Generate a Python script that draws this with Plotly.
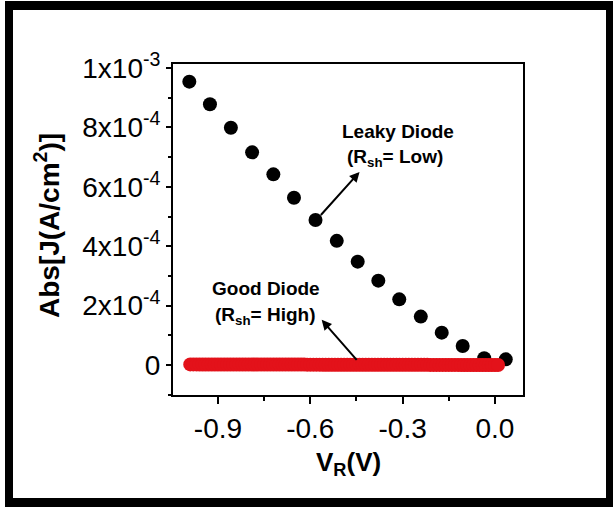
import plotly.graph_objects as go

# Leaky diode (black dots)
leaky_v = [-0.993, -0.926, -0.858, -0.789, -0.720, -0.653, -0.583, -0.514,
           -0.446, -0.379, -0.311, -0.241, -0.173, -0.105, -0.035, 0.035]
leaky_j = [9.54e-4, 8.78e-4, 7.99e-4, 7.16e-4, 6.42e-4, 5.63e-4, 4.88e-4, 4.18e-4,
           3.48e-4, 2.84e-4, 2.21e-4, 1.63e-4, 1.09e-4, 6.4e-5, 2.3e-5, 1.9e-5]

# Good diode (red dots, dense)
good_v = [-0.99, -0.98, -0.97, -0.96, -0.95, -0.94, -0.93, -0.92, -0.91, -0.90,
          -0.89, -0.88, -0.87, -0.86, -0.85, -0.84, -0.83, -0.82, -0.81, -0.80,
          -0.79, -0.78, -0.77, -0.76, -0.75, -0.74, -0.73, -0.72, -0.71, -0.70,
          -0.69, -0.68, -0.67, -0.66, -0.65, -0.64, -0.63, -0.62, -0.61, -0.60,
          -0.59, -0.58, -0.57, -0.56, -0.55, -0.54, -0.53, -0.52, -0.51, -0.50,
          -0.49, -0.48, -0.47, -0.46, -0.45, -0.44, -0.43, -0.42, -0.41, -0.40,
          -0.39, -0.38, -0.37, -0.36, -0.35, -0.34, -0.33, -0.32, -0.31, -0.30,
          -0.29, -0.28, -0.27, -0.26, -0.25, -0.24, -0.23, -0.22, -0.21, -0.20,
          -0.19, -0.18, -0.17, -0.16, -0.15, -0.14, -0.13, -0.12, -0.11, -0.10,
          -0.09, -0.08, -0.07, -0.06, -0.05, -0.04, -0.03, -0.02, -0.01, 0.00, 0.01]
good_j = [2.0e-6, 2.0e-6, 2.0e-6, 1.9e-6, 1.9e-6, 1.9e-6, 1.9e-6, 1.9e-6, 1.8e-6, 1.8e-6,
          1.8e-6, 1.8e-6, 1.8e-6, 1.7e-6, 1.7e-6, 1.7e-6, 1.7e-6, 1.7e-6, 1.6e-6, 1.6e-6,
          1.6e-6, 1.6e-6, 1.6e-6, 1.5e-6, 1.5e-6, 1.5e-6, 1.5e-6, 1.5e-6, 1.4e-6, 1.4e-6,
          1.4e-6, 1.4e-6, 1.4e-6, 1.3e-6, 1.3e-6, 1.3e-6, 1.3e-6, 1.3e-6, 1.2e-6, 1.2e-6,
          1.2e-6, 1.2e-6, 1.2e-6, 1.1e-6, 1.1e-6, 1.1e-6, 1.1e-6, 1.1e-6, 1.0e-6, 1.0e-6,
          1.0e-6, 1.0e-6, 1.0e-6, 9e-7, 9e-7, 9e-7, 9e-7, 9e-7, 8e-7, 8e-7,
          8e-7, 8e-7, 8e-7, 7e-7, 7e-7, 7e-7, 7e-7, 7e-7, 6e-7, 6e-7,
          6e-7, 6e-7, 6e-7, 5e-7, 5e-7, 5e-7, 5e-7, 5e-7, 4e-7, 4e-7,
          4e-7, 4e-7, 4e-7, 3e-7, 3e-7, 3e-7, 3e-7, 3e-7, 2e-7, 2e-7,
          2e-7, 2e-7, 2e-7, 1e-7, 1e-7, 1e-7, 1e-7, 1e-7, 0.0, 0.0, 0.0]

x_tickvals = [-0.9, -0.6, -0.3, 0.0]
x_ticktext = ["-0.9", "-0.6", "-0.3", "0.0"]
y_tickvals = [0, 2e-4, 4e-4, 6e-4, 8e-4, 1e-3]
y_ticktext = ["0", "2x10<sup>-4</sup>", "4x10<sup>-4</sup>", "6x10<sup>-4</sup>",
              "8x10<sup>-4</sup>", "1x10<sup>-3</sup>"]

FONT = "Liberation Sans, Arial, sans-serif"

fig = go.Figure()
fig.add_trace(go.Scatter(x=leaky_v, y=leaky_j, mode="markers",
                         marker=dict(color="black", size=14, line=dict(width=0)),
                         showlegend=False))
fig.add_trace(go.Scatter(x=good_v, y=good_j, mode="markers",
                         marker=dict(color="#E3121A", size=14,
                                     line=dict(width=0)),
                         showlegend=False))

W, H = 613, 507
L, R, T, B = 173, 90, 64, 112
pw, ph = W - L - R, H - T - B

def px(x):
    return (x - L) / pw

def py(y):
    return (H - B - y) / ph

shapes = []
for (x0, y0, x1, y1) in [(5, 1, 13, 507), (606, 1, 613, 507), (5, 1, 613, 10), (5, 498, 613, 507)]:
    shapes.append(dict(type="rect", xref="paper", yref="paper",
                       x0=px(x0), x1=px(x1), y0=py(y1), y1=py(y0),
                       fillcolor="black", line=dict(width=0), layer="above"))

annotations = [
    dict(x=-0.315, y=0.785e-3, text="<b>Leaky Diode</b>", showarrow=False,
         font=dict(size=19, color="black", family=FONT)),
    dict(x=-0.325, y=0.697e-3, text="<b>(R<sub>sh</sub>= Low)</b>", showarrow=False,
         font=dict(size=19, color="black", family=FONT)),
    dict(x=-0.744, y=0.259e-3, text="<b>Good Diode</b>", showarrow=False,
         font=dict(size=19, color="black", family=FONT)),
    dict(x=-0.744, y=0.165e-3, text="<b>(R<sub>sh</sub>= High)</b>", showarrow=False,
         font=dict(size=19, color="black", family=FONT)),
    dict(x=-0.44, y=0.65e-3, ax=-0.57, ay=0.50e-3, axref="x", ayref="y", text="",
         showarrow=True, arrowhead=2, arrowsize=1, arrowwidth=2, arrowcolor="black"),
    dict(x=-0.563, y=0.152e-3, ax=-0.445, ay=0.012e-3, axref="x", ayref="y", text="",
         showarrow=True, arrowhead=2, arrowsize=1, arrowwidth=2, arrowcolor="black"),
    dict(xref="paper", yref="paper", x=0.5, y=py(463), text="<b>V<sub>R</sub>(V)</b>",
         showarrow=False, xanchor="center", yanchor="middle",
         font=dict(size=26, color="black", family=FONT)),
    dict(xref="paper", yref="paper", x=px(47), y=py(226),
         text="<b>Abs[J(A/cm<sup>2</sup>)]</b>", textangle=-90,
         showarrow=False, xanchor="center", yanchor="middle",
         font=dict(size=28, color="black", family=FONT)),
]

fig.update_layout(
    width=W, height=H,
    margin=dict(l=L, r=R, t=T, b=B),
    paper_bgcolor="white", plot_bgcolor="white",
    font=dict(family=FONT, color="black"),
    shapes=shapes, annotations=annotations,
    xaxis=dict(range=[-1.046, 0.091], tickmode="array", tickvals=x_tickvals,
               ticktext=x_ticktext, showgrid=False, zeroline=False,
               showline=True, linecolor="black", linewidth=2, mirror=True,
               ticks="outside", ticklen=7, tickwidth=2, tickcolor="black",
               tickfont=dict(size=28, family=FONT, color="black"),
               minor=dict(tickmode="linear", tick0=-1.05, dtick=0.3,
                          ticks="outside", ticklen=4, tickwidth=2, tickcolor="black")),
    yaxis=dict(range=[-1.01e-4, 1.0135e-3], tickmode="array", tickvals=y_tickvals,
               ticktext=y_ticktext, showgrid=False, zeroline=False,
               showline=True, linecolor="black", linewidth=2, mirror=True,
               ticks="outside", ticklen=5, tickwidth=2, tickcolor="black",
               tickfont=dict(size=28, family=FONT, color="black"),
               minor=dict(tickmode="linear", tick0=0, dtick=1e-4,
                          ticks="outside", ticklen=3, tickwidth=2, tickcolor="black")),
)

fig.write_html("out.html")
